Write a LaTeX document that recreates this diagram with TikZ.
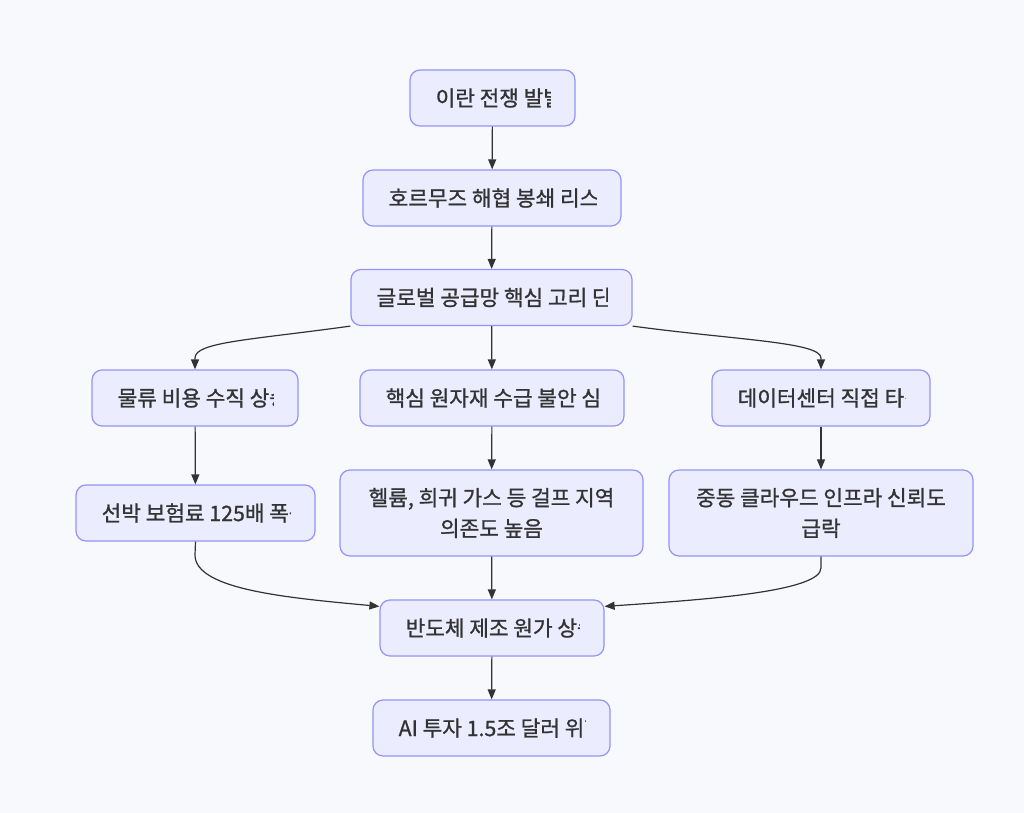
\documentclass[tikz,border=0pt]{standalone}
\usepackage{fontspec}
\usetikzlibrary{arrows.meta}
\newfontfamily\kfont{Noto Sans CJK KR}[FakeBold=1]
\definecolor{pagebg}{RGB}{248,249,252}
\definecolor{boxfill}{RGB}{236,236,255}
\definecolor{boxline}{RGB}{147,147,250}
\definecolor{ink}{RGB}{51,51,51}
\begin{document}
\begin{tikzpicture}[x=0.75pt,y=-0.75pt,
  box/.style={draw=boxline,fill=boxfill,line width=0.9pt,rounded corners=7.5pt,
    minimum height=42pt,inner sep=0pt,text=ink,font=\kfont\fontsize{16}{23}\selectfont},
  wd/.style={minimum width=#1*0.75pt},
  boxtext/.style={anchor=west,inner sep=0pt,text=ink,font=\kfont\fontsize{16}{23}\selectfont},
  arr/.style={draw=ink,line width=0.9pt,-{Triangle[length=7.5pt,width=6pt]}}]
\fill[pagebg] (0,0) rectangle (1024,813);
% chain at the top
\node[box,wd=165] (war) at (492.5,98) {};
\node[box,wd=258] (hormuz) at (492,198) {};
\node[box,wd=281] (chain) at (491.5,297.5) {};
% three branches
\node[box,wd=206] (cost) at (195,398) {};
\node[box,wd=264] (raw) at (492,398) {};
\node[box,wd=218] (dc) at (821,398) {};
\node[box,wd=239] (ship) at (195.5,513) {};
\node[box,wd=303,minimum height=64.5pt,align=center] (helium) at (491.5,513) {헬륨, 희귀 가스 등 걸프 지역\\의존도 높음};
\node[box,wd=304,minimum height=64.5pt,align=center] (cloud) at (821,513) {중동 클라우드 인프라 신뢰도\\급락};
% bottom
\node[box,wd=224] (chip) at (492,628) {};
\node[box,wd=237] (ai) at (491.5,728) {};
% labels cut off at the right padding
\foreach \n/\t in {war/이란 전쟁 발발, hormuz/호르무즈 해협 봉쇄 리스크,
    chain/글로벌 공급망 핵심 고리 단절, cost/물류 비용 수직 상승,
    raw/핵심 원자재 수급 불안 심화, dc/데이터센터 직접 타격,
    ship/선박 보험료 125배 폭등, chip/반도체 제조 원가 상승,
    ai/AI 투자 1.5조 달러 위협}{
  \begin{scope}
    \clip ([xshift=18pt]\n.south west) rectangle ([xshift=-18.5pt]\n.north east);
    \node[boxtext] (\n-text) at ([xshift=19.5pt]\n.west) {\t};
  \end{scope}
}

\draw[arr] (war) -- (hormuz);
\draw[arr] (hormuz) -- (chain);
\draw[arr] (chain.south west) .. controls (250,340) and (195,342) .. (195,358) -- (cost.north);
\draw[arr] (chain) -- (raw);
\draw[arr] (chain.south east) .. controls (735,340) and (821,342) .. (821,358) -- (dc.north);
\draw[arr] (cost) -- (ship);
\draw[arr] (raw) -- (helium);
\draw[arr] (dc) -- (cloud);
\draw[arr] (ship.south) -- (195,555) .. controls (195,590) and (290,598) .. ([yshift=-5.25pt]chip.north west);
\draw[arr] (helium) -- (chip);
\draw[arr] (cloud.south) -- (821,568) .. controls (821,592) and (700,600) .. ([yshift=-5.25pt]chip.north east);
\draw[arr] (chip) -- (ai);
\end{tikzpicture}
\end{document}
